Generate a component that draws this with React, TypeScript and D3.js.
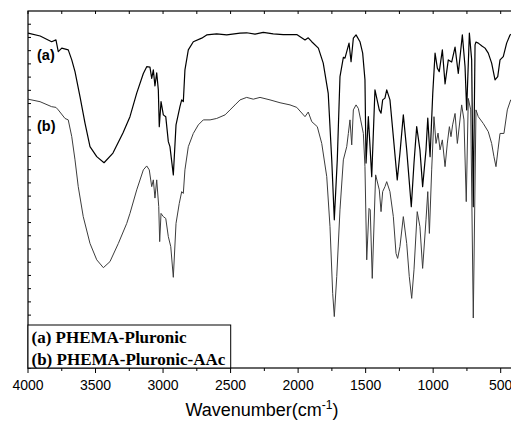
import { useEffect, useRef } from 'react';
import * as d3 from 'd3';

// FTIR spectra, [wavenumber cm-1, transmittance a.u.]
const seriesA: [number, number][] = [
  [4000, 93.8], [3910, 93.0], [3825, 91.4], [3793, 91.9], [3776, 88.6], [3750, 89.6],
  [3702, 89.1], [3676, 86.3], [3652, 83.0], [3615, 76.0], [3578, 68.6], [3541, 62.0],
  [3491, 59.2], [3437, 57.5], [3371, 60.2], [3297, 65.8], [3245, 70.4], [3195, 77.0],
  [3146, 82.5], [3121, 84.4], [3097, 84.3], [3084, 81.1], [3072, 83.5], [3060, 79.0],
  [3047, 82.7], [3035, 77.9], [3028, 67.6], [3015, 74.6], [2998, 70.9], [2980, 70.4],
  [2961, 63.4], [2949, 62.0], [2924, 54.1], [2904, 68.1], [2875, 73.2], [2862, 75.1],
  [2850, 74.6], [2838, 83.5], [2813, 89.1], [2776, 91.4], [2714, 92.4], [2677, 93.3],
  [2603, 93.6], [2529, 93.3], [2430, 93.8], [2381, 93.9], [2319, 93.5], [2258, 94.0],
  [2184, 93.6], [2110, 93.4], [2010, 93.4], [1949, 91.9], [1925, 92.5], [1899, 91.4],
  [1850, 89.6], [1814, 85.4], [1777, 76.9], [1751, 58.3], [1732, 41.5], [1710, 58.3],
  [1690, 81.6], [1665, 87.0], [1653, 86.8], [1623, 91.0], [1608, 85.8], [1591, 92.4],
  [1571, 93.3], [1542, 91.4], [1522, 88.2], [1505, 80.7], [1497, 57.4], [1480, 70.4],
  [1455, 53.6], [1431, 77.9], [1399, 72.3], [1386, 71.4], [1374, 75.1], [1357, 75.6],
  [1344, 77.9], [1320, 75.1], [1295, 64.8], [1266, 52.7], [1246, 60.2], [1221, 70.9],
  [1196, 61.1], [1162, 45.2], [1142, 57.4], [1122, 67.6], [1098, 61.1], [1078, 50.8],
  [1053, 61.1], [1040, 70.0], [1023, 59.2], [1003, 77.0], [986, 88.2], [969, 84.0],
  [955, 83.0], [932, 89.1], [912, 79.6], [888, 86.3], [863, 85.7], [838, 89.9],
  [814, 82.5], [784, 93.3], [764, 84.4], [752, 72.3], [732, 93.8], [715, 86.3],
  [703, 45.2], [690, 90.5], [683, 91.3], [666, 91.0], [639, 90.2], [616, 89.6],
  [592, 88.2], [567, 85.4], [542, 80.7], [522, 81.6], [505, 86.3], [481, 87.2],
  [456, 91.0], [431, 93.3], [400, 94.0],
];

const seriesB: [number, number][] = [
  [4000, 75.3], [3911, 74.6], [3825, 73.2], [3793, 73.0], [3776, 72.3], [3726, 69.9],
  [3702, 69.5], [3676, 64.8], [3652, 58.3], [3628, 50.8], [3591, 42.4], [3541, 34.9],
  [3491, 30.3], [3442, 28.1], [3393, 29.8], [3331, 34.9], [3269, 40.5], [3245, 43.3],
  [3195, 49.9], [3146, 55.5], [3121, 56.6], [3102, 55.5], [3084, 50.8], [3072, 52.7],
  [3060, 47.6], [3047, 52.7], [3032, 45.2], [3025, 35.4], [3015, 43.3], [2998, 42.4],
  [2980, 41.9], [2961, 36.8], [2943, 34.0], [2924, 25.4], [2904, 40.5], [2880, 46.1],
  [2862, 49.4], [2850, 48.9], [2838, 55.5], [2813, 62.0], [2776, 65.7], [2739, 68.1],
  [2702, 69.5], [2652, 69.5], [2603, 69.9], [2541, 70.9], [2504, 72.3], [2467, 73.7],
  [2430, 75.1], [2381, 75.8], [2332, 75.3], [2282, 75.8], [2208, 75.1], [2134, 74.3],
  [2060, 73.7], [2010, 73.0], [1949, 70.4], [1925, 71.7], [1899, 69.0], [1858, 67.6],
  [1825, 62.9], [1788, 53.6], [1764, 39.6], [1744, 20.9], [1732, 14.4], [1714, 25.6],
  [1690, 44.3], [1665, 58.3], [1640, 62.0], [1628, 65.7], [1616, 69.5], [1603, 62.5],
  [1591, 72.3], [1571, 73.7], [1554, 72.7], [1537, 69.5], [1517, 65.7], [1505, 56.4],
  [1492, 30.3], [1475, 44.7], [1466, 44.3], [1451, 25.1], [1426, 54.1], [1399, 49.9],
  [1386, 43.8], [1374, 49.4], [1357, 50.8], [1344, 52.2], [1320, 49.4], [1295, 42.4],
  [1275, 32.1], [1263, 30.7], [1246, 34.0], [1221, 42.4], [1196, 34.9], [1177, 25.6],
  [1159, 19.5], [1142, 27.5], [1118, 43.8], [1098, 39.6], [1078, 27.9], [1053, 41.5],
  [1040, 49.4], [1028, 37.7], [1011, 55.5], [994, 70.4], [979, 62.9], [964, 65.8],
  [949, 61.1], [932, 63.9], [912, 56.4], [895, 63.0], [880, 67.6], [868, 64.8],
  [856, 68.1], [838, 71.3], [821, 62.9], [789, 73.7], [772, 69.5], [755, 46.6],
  [740, 75.5], [722, 72.3], [703, 14.0], [683, 72.3], [666, 70.4], [629, 68.5],
  [592, 66.2], [567, 62.9], [550, 59.2], [535, 56.4], [520, 61.1], [505, 65.7],
  [476, 65.7], [451, 72.3], [426, 75.1], [400, 76.0],
];

const xMajorTicks = [4000, 3500, 3000, 2500, 2000, 1500, 1000, 500];
const xMinorTicks = [3750, 3250, 2750, 2250, 1750, 1250, 750];
const curveLabels = [
  { text: '(a)', at: 4000, value: 86.3 },
  { text: '(b)', at: 4000, value: 66.4 },
];
const legendItems = ['(a) PHEMA-Pluronic', '(b) PHEMA-Pluronic-AAc'];

export default function App() {
  const svgRef = useRef<SVGSVGElement>(null);
  const width = 511;
  const height = 423;

  useEffect(() => {
    if (!svgRef.current) return;
    const svg = d3.select(svgRef.current);
    svg.selectAll('*').remove();

    const left = 28;
    const top = 11;
    const bottom = 368;

    const x = d3.scaleLinear().domain([4000, 400]).range([left, left + 3600 * 0.135057]);
    const y = d3.scaleLinear().domain([0, 100]).range([bottom, top]);
    const right = x(400);

    const line = d3
      .line<[number, number]>()
      .x(d => x(d[0]))
      .y(d => y(d[1]));

    // spectra
    svg.append('path')
      .datum(seriesB)
      .attr('d', line)
      .attr('fill', 'none')
      .attr('stroke', '#3c3c3c')
      .attr('stroke-width', 1)
      .attr('stroke-linejoin', 'round');

    svg.append('path')
      .datum(seriesA)
      .attr('d', line)
      .attr('fill', 'none')
      .attr('stroke', '#000')
      .attr('stroke-width', 1.2)
      .attr('stroke-linejoin', 'round');

    // frame
    svg.append('rect')
      .attr('x', left)
      .attr('y', top)
      .attr('width', right - left)
      .attr('height', bottom - top)
      .attr('fill', 'none')
      .attr('stroke', '#000')
      .attr('stroke-width', 1.2);

    // bottom axis
    const xAxis = svg.append('g').attr('transform', `translate(0,${bottom})`);
    xAxis.selectAll('.major')
      .data(xMajorTicks)
      .enter()
      .append('line')
      .attr('x1', d => x(d))
      .attr('x2', d => x(d))
      .attr('y1', 0)
      .attr('y2', 5)
      .attr('stroke', '#000');
    xAxis.selectAll('.minor')
      .data(xMinorTicks)
      .enter()
      .append('line')
      .attr('x1', d => x(d))
      .attr('x2', d => x(d))
      .attr('y1', 0)
      .attr('y2', 3)
      .attr('stroke', '#000');
    xAxis.selectAll('text')
      .data(xMajorTicks)
      .enter()
      .append('text')
      .attr('x', d => x(d))
      .attr('y', 22)
      .attr('text-anchor', 'middle')
      .attr('font-family', 'Arial, "Liberation Sans", sans-serif')
      .attr('font-size', 14)
      .attr('fill', '#000')
      .text(d => d);

    // top ticks
    svg.selectAll('.topTick')
      .data([...xMajorTicks, ...xMinorTicks])
      .enter()
      .append('line')
      .attr('x1', d => x(d))
      .attr('x2', d => x(d))
      .attr('y1', top)
      .attr('y2', top + 3)
      .attr('stroke', '#000');

    // left ticks (no labels)
    const yTicks = d3.range(0, 27).map(i => (i * 100) / 27);
    svg.selectAll('.yTick')
      .data(yTicks)
      .enter()
      .append('line')
      .attr('x1', left)
      .attr('x2', left + 3)
      .attr('y1', d => y(d))
      .attr('y2', d => y(d))
      .attr('stroke', '#000');

    // axis title
    const title = svg.append('text')
      .attr('x', 262)
      .attr('y', 416)
      .attr('text-anchor', 'middle')
      .attr('font-family', 'Arial, "Liberation Sans", sans-serif')
      .attr('font-size', 18)
      .attr('fill', '#000');
    title.append('tspan').text('Wavenumber(cm');
    title.append('tspan').attr('font-size', 12).attr('dy', -7).text('-1');
    title.append('tspan').attr('dy', 7).text(')');

    // curve labels
    svg.selectAll('.clabel')
      .data(curveLabels)
      .enter()
      .append('text')
      .attr('x', d => x(d.at) + 9)
      .attr('y', d => y(d.value))
      .attr('font-family', 'Arial, "Liberation Sans", sans-serif')
      .attr('font-weight', 'bold')
      .attr('font-size', 14.5)
      .attr('fill', '#000')
      .text(d => d.text);

    // legend box
    const legend = svg.append('g');
    legend.append('rect')
      .attr('x', left)
      .attr('y', 325)
      .attr('width', 202.7)
      .attr('height', bottom - 325)
      .attr('fill', '#fff')
      .attr('stroke', '#000')
      .attr('stroke-width', 1);
    legend.selectAll('text')
      .data(legendItems)
      .enter()
      .append('text')
      .attr('x', left + 3.5)
      .attr('y', (_, i) => 343 + i * 21.5)
      .attr('font-family', '"Liberation Serif", "Times New Roman", serif')
      .attr('font-weight', 'bold')
      .attr('font-size', 17)
      .attr('fill', '#000')
      .text(d => d);
  }, []);

  return (
    <svg
      ref={svgRef}
      width={width}
      height={height}
      style={{ position: 'absolute', left: 0, top: 0, background: '#fff' }}
    />
  );
}
